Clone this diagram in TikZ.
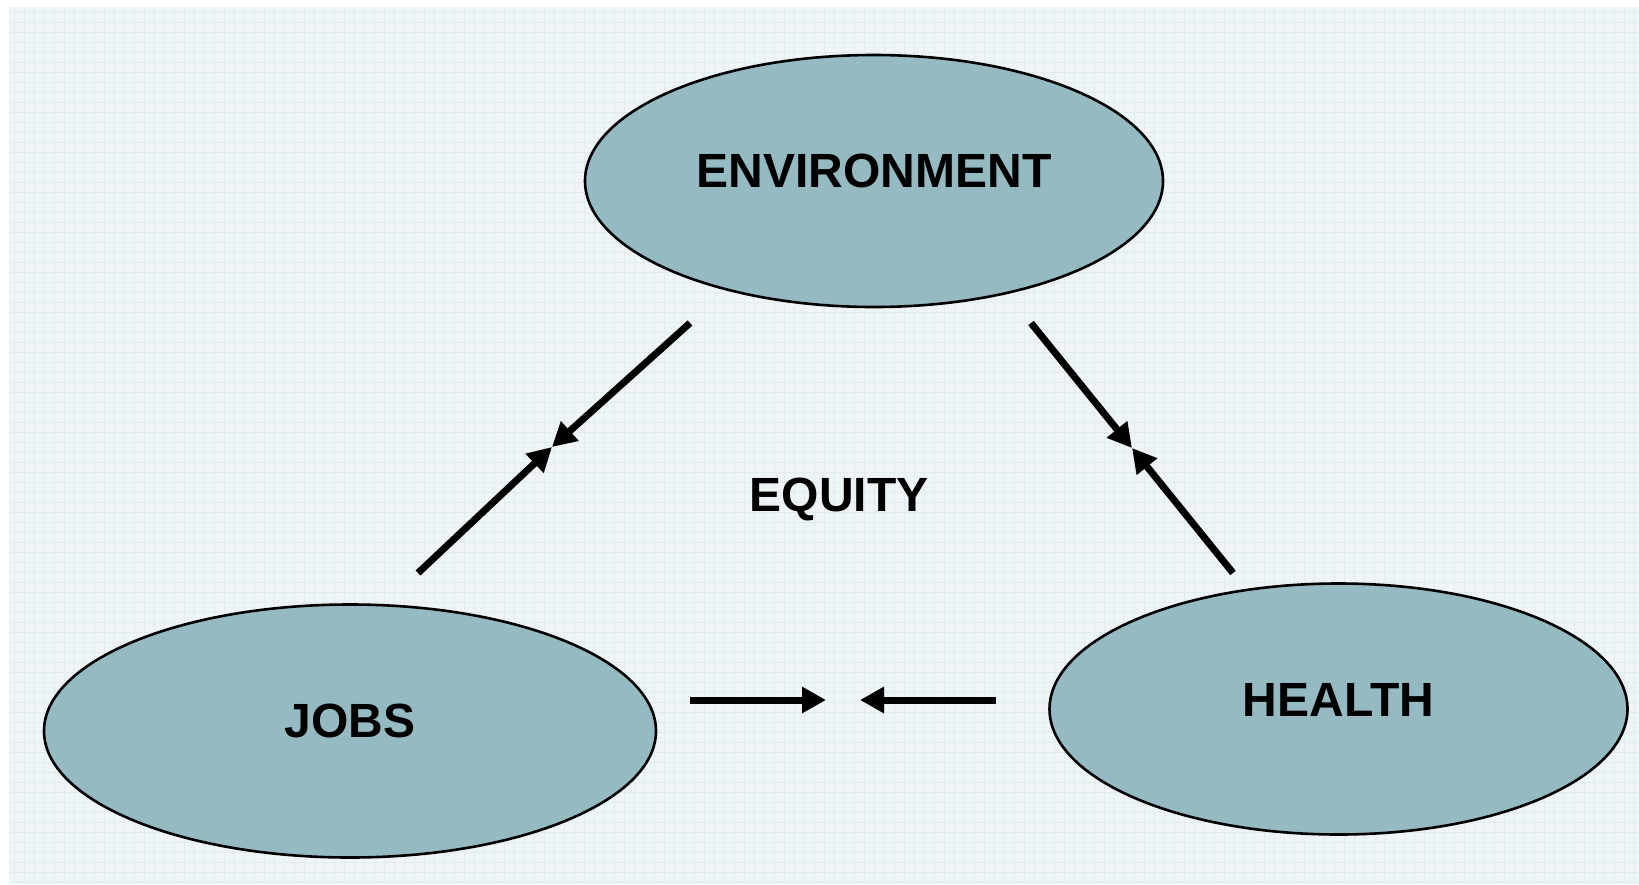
\documentclass[tikz,border=0pt]{standalone}
\usepackage{fontspec}
\setmainfont{Liberation Sans}
\usetikzlibrary{shapes.geometric,arrows.meta}
\definecolor{bgc}{RGB}{239,245,247}
\definecolor{gridc}{RGB}{225,236,240}
\definecolor{ellc}{RGB}{149,186,194}
\tikzset{
  blob/.style={ellipse, draw=black, line width=2.6pt, fill=ellc, inner sep=0pt},
  lbl/.style={font=\fontsize{48}{56}\selectfont\bfseries, text=black, inner sep=0pt},
  arr/.style={line width=7pt, -{Triangle[length=24pt,width=25pt]}},
}
\begin{document}
\begin{tikzpicture}[x=1pt,y=-1pt]
\useasboundingbox (0,0) rectangle (1639,884);
\fill[bgc] (9,7) rectangle (1639,884);
\foreach \gx in {14,24,...,1639} \draw[gridc, line width=1pt] (\gx,7) -- (\gx,884);
\foreach \gy in {12,22,...,884} \draw[gridc, line width=1pt] (9,\gy) -- (1639,\gy);

\node[blob, minimum width=578pt, minimum height=252pt] (env) at (874,181) {};
\node[blob, minimum width=612pt, minimum height=253pt] (jobs) at (350,731) {};
\node[blob, minimum width=578pt, minimum height=251pt] (health) at (1338.5,709) {};

\node[lbl] (envt) at ([yshift=10pt]env.center) {ENVIRONMENT};
\node[lbl] (jobst) at ([yshift=10pt]jobs.center) {JOBS};
\node[lbl] (healtht) at ([yshift=9pt]health.center) {HEALTH};
\node[lbl] (equity) at (839,499) {EQUITY};

\coordinate (a1) at (690,323);
\coordinate (a2) at (418,573);
\coordinate (am) at (552,447);
\coordinate (b1) at (1031,323);
\coordinate (b2) at (1233,573);
\coordinate (bm) at (1132,448);
\coordinate (c1) at (690,700);
\coordinate (c1t) at (826,700);
\coordinate (c2) at (996,700);
\coordinate (c2t) at (860,700);

\draw[arr] (a1) -- (am);
\draw[arr] (a2) -- (am);
\draw[arr] (b1) -- (bm);
\draw[arr] (b2) -- (bm);
\draw[arr] (c1) -- (c1t);
\draw[arr] (c2) -- (c2t);
\end{tikzpicture}
\end{document}
